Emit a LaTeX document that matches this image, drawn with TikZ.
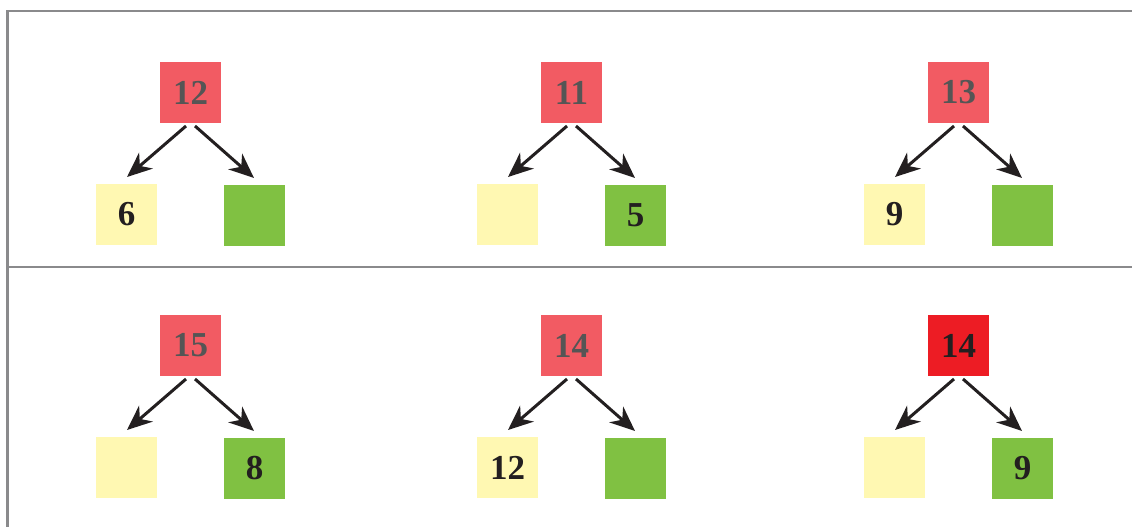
\documentclass[tikz,border=0pt]{standalone}
\usepackage{fontspec}
\setmainfont{Liberation Serif}
\usetikzlibrary{arrows.meta}
\definecolor{lred}{RGB}{242,91,99}
\definecolor{hred}{RGB}{237,28,36}
\definecolor{lyel}{RGB}{255,248,178}
\definecolor{lgrn}{RGB}{128,193,66}
\definecolor{tgray}{RGB}{85,85,85}
\definecolor{tdark}{RGB}{35,31,32}
\definecolor{frame}{RGB}{138,138,140}
\tikzset{
  box/.style={minimum width=61pt,minimum height=61pt,inner sep=0pt,outer sep=0pt,
    font=\fontsize{35}{35}\selectfont\bfseries},
  parentbox/.style={box,fill=lred,text=tgray},
  hotbox/.style={box,fill=hred,text=tdark},
  leftbox/.style={box,fill=lyel,text=tdark},
  rightbox/.style={box,fill=lgrn,text=tdark},
  bigtip/.tip={Stealth[length=25pt,width=21pt,inset=8pt]},
  arr/.style={draw=tdark,line width=3pt,-bigtip},
  framerule/.style={draw=frame,line width=2.2pt}
}
\newcommand\mytree[7]{%
  % #1 prefix, #2 x, #3 y, #4 parent style, #5 parent text, #6 left text, #7 right text
  \node[#4] (#1p) at (#2,#3) {#5};
  \node[leftbox] (#1l) at ([xshift=-64pt,yshift=-122pt]#1p.center) {#6};
  \node[rightbox] (#1r) at ([xshift=64pt,yshift=-123pt]#1p.center) {#7};
  \draw[arr] ([xshift=-4.5pt,yshift=-3pt]#1p.south) -- ([xshift=0.5pt,yshift=7pt]#1l.north);
  \draw[arr] ([xshift=4.5pt,yshift=-3pt]#1p.south) -- ([xshift=-0.5pt,yshift=7pt]#1r.north);
}
\begin{document}
\begin{tikzpicture}[x=1pt,y=-1pt]
\useasboundingbox (0,0) rectangle (1132,527);
\coordinate (tl) at (7.5,11);
\coordinate (tr) at (1132,11);
\coordinate (bl) at (7.5,527);
\coordinate (ml) at (7.5,267);
\coordinate (mr) at (1132,267);
\draw[framerule] (tr) -- (tl) -- (bl);
\draw[framerule] (ml) -- (mr);
\mytree{a}{190.5}{92.5}{parentbox}{12}{6}{}
\mytree{b}{571.5}{92.5}{parentbox}{11}{}{5}
\mytree{c}{958.5}{92.5}{parentbox}{13}{9}{}
\mytree{d}{190.5}{345.5}{parentbox}{15}{}{8}
\mytree{e}{571.5}{345.5}{parentbox}{14}{12}{}
\mytree{f}{958.5}{345.5}{hotbox}{14}{}{9}
\end{tikzpicture}
\end{document}
